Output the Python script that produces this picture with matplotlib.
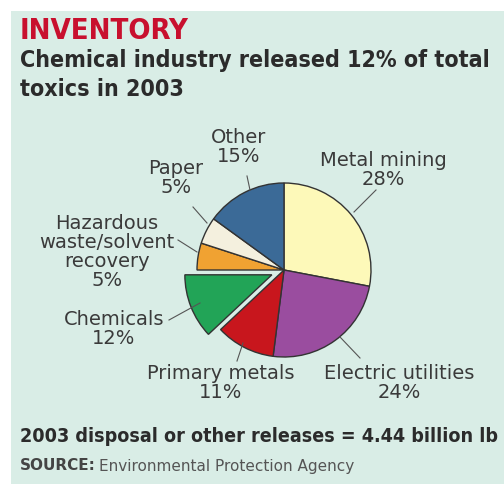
import matplotlib
matplotlib.use("Agg")
import matplotlib.pyplot as plt
from matplotlib.patches import Rectangle
from matplotlib.lines import Line2D

# ---- data ----
categories = ["Metal mining", "Electric utilities", "Primary metals", "Chemicals",
              "Hazardous\nwaste/solvent\nrecovery", "Paper", "Other"]
shares = [28, 24, 11, 12, 5, 5, 15]
colors = ["#fdf9b9", "#9a4d9f", "#c8161d", "#22a457", "#f0a232", "#f4f0de", "#3b6a97"]
explode_flags = [0, 0, 0, 1, 0, 0, 0]

W, H = 504, 484
fig = plt.figure(figsize=(W / 100, H / 100), dpi=100)
fig.patch.set_facecolor("white")

def fx(x):
    return x / W

def fy(y):
    return 1 - y / H

# background panel
fig.patches.append(Rectangle((fx(11), 0), 1 - fx(11), fy(11), transform=fig.transFigure,
                             facecolor="#d9ede6", edgecolor="none", zorder=-10))

FONT = "DejaVu Sans"
ST = "condensed"
TXT = "#3a3a3a"

# pie axes: center (284,270) px, radius 87 px
R = 87
cx, cy = 284, 270
ax = fig.add_axes([fx(cx - 2 * R), fy(cy + 2 * R), 4 * R / W, 4 * R / H])
ax.set_zorder(1)
ax.pie(shares, colors=colors, startangle=90, counterclock=False,
       explode=[0.15 * e for e in explode_flags],
       wedgeprops=dict(edgecolor="#333333", linewidth=1.0))
ax.set_xlim(-2, 2)
ax.set_ylim(-2, 2)
ax.axis("off")

# titles
fig.text(fx(20), fy(31), "INVENTORY", color="#c8102e", fontsize=21, fontweight="bold",
         family=FONT, fontstretch=ST, va="center", ha="left")
fig.text(fx(20), fy(60), "Chemical industry released 12% of total", color="#2b2b2b",
         fontsize=16.7, fontweight="bold", family=FONT, fontstretch=ST, va="center", ha="left")
fig.text(fx(20), fy(90), "toxics in 2003", color="#2b2b2b",
         fontsize=16.7, fontweight="bold", family=FONT, fontstretch=ST, va="center", ha="left")

# labels
labels = [
    ("Other\n15%", 239, 147),
    ("Paper\n5%", 176, 178),
    ("Metal mining\n28%", 383, 170),
    ("Hazardous\nwaste/solvent\nrecovery\n5%", 107, 252),
    ("Chemicals\n12%", 114, 329),
    ("Primary metals\n11%", 221, 383),
    ("Electric utilities\n24%", 399, 383),
]
for t, x, y in labels:
    fig.text(fx(x), fy(y), t, color=TXT, fontsize=14, family=FONT,
             ha="center", va="center", linespacing=0.98)

# leader lines
leaders = [
    ((247, 176), (250, 190)),
    ((193, 207), (207, 223)),
    ((178, 240), (197, 252)),
    ((169, 320), (200, 303)),
    ((237, 361), (243, 343)),
    ((360, 358), (340, 337)),
    ((376, 190), (354, 212)),
]
for (x0, y0), (x1, y1) in leaders:
    fig.lines.append(Line2D([fx(x0), fx(x1)], [fy(y0), fy(y1)], transform=fig.transFigure,
                            color="#555555", linewidth=0.8))

fig.text(fx(20), fy(437), "2003 disposal or other releases = 4.44 billion lb", color="#2b2b2b",
         fontsize=14.1, fontweight="bold", family=FONT, fontstretch=ST, va="center", ha="left")
fig.text(fx(20), fy(466), "SOURCE:", color="#444444", fontsize=11, fontweight="bold",
         family=FONT, va="center", ha="left")
fig.text(fx(99), fy(466), "Environmental Protection Agency", color="#555555", fontsize=11,
         family=FONT, va="center", ha="left")

fig.savefig("out.png", dpi=100, facecolor="white")
